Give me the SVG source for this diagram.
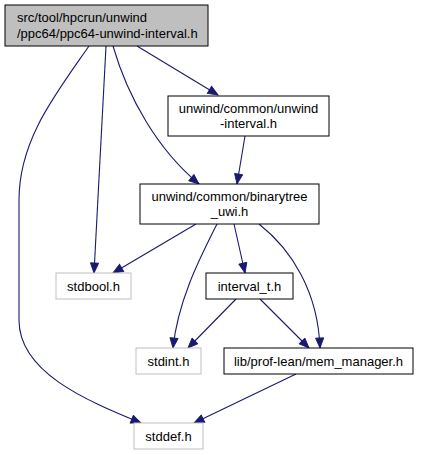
<svg xmlns="http://www.w3.org/2000/svg" width="421" height="455" viewBox="0 0 421 455">
<style>
.n rect{fill:#fff;stroke:#000;stroke-width:1}
.n.g rect{stroke:#bfbfbf}
.n.r rect{fill:#bfbfbf}
text{font-family:"Liberation Sans",Arial,sans-serif;font-size:13px;fill:#000}
.c{text-anchor:middle}
#edges path{fill:none;stroke:#191970;stroke-width:1.1;marker-end:url(#ah)}
</style>
<defs>
<marker id="ah" markerUnits="userSpaceOnUse" markerWidth="12" markerHeight="10" refX="11" refY="4.5" orient="auto" viewBox="-1 -1 13 11">
<path d="M0,0 L11,4.5 L0,9 z" fill="#191970" stroke="#191970"/>
</marker>
</defs>
<rect width="421" height="455" fill="#fff"/>
<g id="edges">
<path d="M137,46 L218,95"/>
<path d="M113,46 C128,98 158,150 199,184"/>
<path d="M106,46 L94,273"/>
<path d="M89,46 C55,95 19,140 19,200 L19,320 C19,372 85,400 141,423"/>
<path d="M245,136 L237,184"/>
<path d="M196,224 L113,273"/>
<path d="M217,224 C200,258 178,300 173,348"/>
<path d="M234,224 L245,273"/>
<path d="M259,224 C292,250 318,292 320,348"/>
<path d="M236,299 L188,348"/>
<path d="M260,299 L309,348"/>
<path d="M296,374 L194,423"/>
</g>
<g id="root" class="n r"><rect x="5" y="5" width="203" height="41"/><text x="17" y="22">src/tool/hpcrun/unwind</text><text x="17" y="38">/ppc64/ppc64-unwind-interval.h</text></g>
<g id="unwind_interval" class="n"><rect x="168" y="96" width="161" height="40"/><text class="c" x="248.5" y="113">unwind/common/unwind</text><text class="c" x="248.5" y="128">-interval.h</text></g>
<g id="binarytree" class="n"><rect x="140" y="184" width="179" height="40"/><text class="c" x="229.5" y="201">unwind/common/binarytree</text><text class="c" x="229.5" y="216">_uwi.h</text></g>
<g id="stdbool" class="n g"><rect x="56" y="273" width="75" height="26"/><text class="c" x="93.5" y="290.5">stdbool.h</text></g>
<g id="interval_t" class="n"><rect x="206" y="273" width="87" height="26"/><text class="c" x="249.5" y="290.5">interval_t.h</text></g>
<g id="stdint" class="n g"><rect x="136" y="348" width="65" height="26"/><text class="c" x="168.5" y="365.5">stdint.h</text></g>
<g id="mem_manager" class="n"><rect x="224" y="348" width="189" height="26"/><text class="c" x="318.5" y="365.5">lib/prof-lean/mem_manager.h</text></g>
<g id="stddef" class="n g"><rect x="134" y="423" width="69" height="26"/><text class="c" x="168.5" y="440.5">stddef.h</text></g>
</svg>
